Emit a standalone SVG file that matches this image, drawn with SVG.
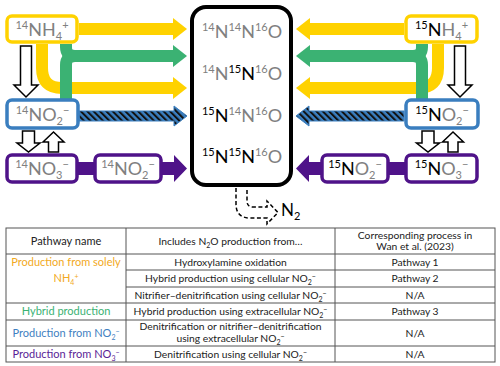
<svg xmlns="http://www.w3.org/2000/svg" width="500" height="366" viewBox="0 0 500 366">
<style>
.lbl{font-family:Lato,"Noto Sans","Liberation Sans",sans-serif;font-size:18px;fill:#808080}
.k{fill:#000}
.s{font-size:11px}
.yel{fill:none;stroke:#ffd200;stroke-width:12}
.grn{fill:none;stroke:#3bb273;stroke-width:12}
.box{fill:#fff;stroke-width:3.5}
.bY{stroke:#ffd200}.bB{stroke:#3a7ebf}.bP{stroke:#4f1389}
.open{fill:#fff;stroke:#000;stroke-width:1.5;stroke-linejoin:miter}
.tb{font-family:Lato,"Noto Sans","Liberation Sans",sans-serif;font-size:10.3px;fill:#222;text-anchor:middle}
.t1{font-size:11px}
.ln{stroke:#555;stroke-width:1;fill:none}
.ss{font-size:7px}
</style>
<defs>
<pattern id="hatch" width="4.5" height="4.5" patternUnits="userSpaceOnUse" patternTransform="rotate(-45)">
<rect width="4.5" height="4.5" fill="#3a7ebf"/><rect width="2" height="4.5" fill="#111"/>
</pattern>
</defs>

<g id="connectors">
<!-- left -->
<path class="yel" d="M79,29 H175"/>
<polygon fill="#ffd200" points="173,18 187,29 173,40"/>
<path class="yel" d="M42,44 V68 Q42,88 62,88 H175"/>
<polygon fill="#ffd200" points="173,77 187,88 173,99"/>
<path class="grn" d="M66,44 V47 Q66,56 75,56 H175"/>
<path class="grn" d="M66,99 V65 Q66,56 75,56"/>
<polygon fill="#3bb273" points="173,45 187,56 173,67"/>
<polygon fill="url(#hatch)" stroke="#3a7ebf" stroke-width="1" points="79,111 174,111 174,106 187,116 174,126 174,121 79,121"/>
<rect x="78" y="162" width="16" height="13" fill="#4f1389"/>
<polygon fill="#4f1389" points="162,162 174,162 174,155 187,168.5 174,182 174,175 162,175"/>
<polygon class="open" points="20.5,46 31.5,46 31.5,85 38,85 26,97 14,85 20.5,85"/>
<polygon class="open" points="22.5,131 34.5,131 34.5,143 40,143 28.5,152 17,143 22.5,143"/>
<polygon class="open" points="48.5,152 58.5,152 58.5,142 64,142 53.5,132 43,142 48.5,142"/>
<!-- right -->
<path class="yel" d="M404,29 H308"/>
<polygon fill="#ffd200" points="310,18 296,29 310,40"/>
<path class="yel" d="M438,44 V68 Q438,88 418,88 H308"/>
<polygon fill="#ffd200" points="310,77 296,88 310,99"/>
<path class="grn" d="M422,44 V47 Q422,56 413,56 H308"/>
<path class="grn" d="M422,99 V65 Q422,56 413,56"/>
<polygon fill="#3bb273" points="310,45 296,56 310,67"/>
<polygon fill="url(#hatch)" stroke="#3a7ebf" stroke-width="1" points="404,111 309,111 309,106 296,116 309,126 309,121 404,121"/>
<rect x="389" y="162" width="16" height="13" fill="#4f1389"/>
<polygon fill="#4f1389" points="321,162 309,162 309,155 296,168.5 309,182 309,175 321,175"/>
<polygon class="open" points="454.5,46 465.5,46 465.5,85 472,85 460,97 448,85 454.5,85"/>
<polygon class="open" points="422,131 434,131 434,143 439.5,143 428,152 416.5,143 422,143"/>
<polygon class="open" points="448,152 458,152 458,142 463.5,142 453,132 442.5,142 448,142"/>
<!-- N2 -->
<path d="M236,188 V204 Q236,218 250,218 H267 V224 L278,212.5 L267,201 V207 H253 Q247,207 247,201 V188" fill="none" stroke="#000" stroke-width="1.5" stroke-dasharray="4 2.5"/>
</g>

<g id="n2o">
<rect x="192" y="7" width="99" height="178" rx="14" fill="#fff" stroke="#000" stroke-width="4"/>
<text class="lbl" x="242" y="38" text-anchor="middle"><tspan class="s" dy="-7">14</tspan><tspan dy="7">N</tspan><tspan class="s" dy="-7">14</tspan><tspan dy="7">N</tspan><tspan class="s" dy="-7">16</tspan><tspan dy="7">O</tspan></text>
<text class="lbl" x="242" y="80" text-anchor="middle"><tspan class="s" dy="-7">14</tspan><tspan dy="7">N</tspan><tspan class="s k" dy="-7">15</tspan><tspan class="k" dy="7">N</tspan><tspan class="s" dy="-7">16</tspan><tspan dy="7">O</tspan></text>
<text class="lbl" x="242" y="122" text-anchor="middle"><tspan class="s k" dy="-7">15</tspan><tspan class="k" dy="7">N</tspan><tspan class="s" dy="-7">14</tspan><tspan dy="7">N</tspan><tspan class="s" dy="-7">16</tspan><tspan dy="7">O</tspan></text>
<text class="lbl" x="242" y="163" text-anchor="middle"><tspan class="s k" dy="-7">15</tspan><tspan class="k" dy="7">N</tspan><tspan class="s k" dy="-7">15</tspan><tspan class="k" dy="7">N</tspan><tspan class="s" dy="-7">16</tspan><tspan dy="7">O</tspan></text>
</g>

<g id="nh4-14">
<rect class="box bY" x="7" y="16" width="70" height="26" rx="5"/>
<text class="lbl" x="42" y="35.5" text-anchor="middle"><tspan class="s" dy="-7">14</tspan><tspan dy="7">NH</tspan><tspan class="s" dy="4">4</tspan><tspan class="s" dy="-11">+</tspan></text>
</g>
<g id="no2-14">
<rect class="box bB" x="7" y="100" width="71" height="28" rx="5"/>
<text class="lbl" x="42.5" y="120.5" text-anchor="middle"><tspan class="s" dy="-7">14</tspan><tspan dy="7">NO</tspan><tspan class="s" dy="4">2</tspan><tspan class="s" dy="-11">−</tspan></text>
</g>
<g id="no3-14">
<rect class="box bP" x="7" y="155" width="70" height="27" rx="5"/>
<text class="lbl" x="42" y="175" text-anchor="middle"><tspan class="s" dy="-7">14</tspan><tspan dy="7">NO</tspan><tspan class="s" dy="4">3</tspan><tspan class="s" dy="-11">−</tspan></text>
</g>
<g id="no2c-14">
<rect class="box bP" x="95" y="155" width="66" height="27" rx="5"/>
<text class="lbl" x="128" y="175" text-anchor="middle"><tspan class="s" dy="-7">14</tspan><tspan dy="7">NO</tspan><tspan class="s" dy="4">2</tspan><tspan class="s" dy="-11">−</tspan></text>
</g>

<g id="nh4-15">
<rect class="box bY" x="406" y="16" width="71" height="26" rx="5"/>
<text class="lbl" x="441.5" y="35.5" text-anchor="middle"><tspan class="s k" dy="-7">15</tspan><tspan class="k" dy="7">N</tspan><tspan>H</tspan><tspan class="s" dy="4">4</tspan><tspan class="s" dy="-11">+</tspan></text>
</g>
<g id="no2-15">
<rect class="box bB" x="406" y="100" width="72" height="28" rx="5"/>
<text class="lbl" x="442" y="120.5" text-anchor="middle"><tspan class="s k" dy="-7">15</tspan><tspan class="k" dy="7">N</tspan><tspan>O</tspan><tspan class="s" dy="4">2</tspan><tspan class="s" dy="-11">−</tspan></text>
</g>
<g id="no3-15">
<rect class="box bP" x="406" y="155" width="71" height="27" rx="5"/>
<text class="lbl" x="441.5" y="175" text-anchor="middle"><tspan class="s k" dy="-7">15</tspan><tspan class="k" dy="7">N</tspan><tspan>O</tspan><tspan class="s" dy="4">3</tspan><tspan class="s" dy="-11">−</tspan></text>
</g>
<g id="no2c-15">
<rect class="box bP" x="322" y="155" width="66" height="27" rx="5"/>
<text class="lbl" x="355" y="175" text-anchor="middle"><tspan class="s k" dy="-7">15</tspan><tspan class="k" dy="7">N</tspan><tspan>O</tspan><tspan class="s" dy="4">2</tspan><tspan class="s" dy="-11">−</tspan></text>
</g>

<g id="n2">
<text class="lbl k" x="281" y="216" style="font-size:17px">N<tspan class="s" dy="4">2</tspan></text>
</g>

<g id="table">
<rect class="ln" x="6" y="228" width="489" height="134" stroke-width="1.2"/>
<path class="ln" d="M126,228 V362 M335,228 V362 M126,270 H495 M126,287 H495 M6,303 H495 M6,320 H495 M6,346 H495"/>
<path class="ln" d="M6,254 H495" stroke-width="1.6"/>
<text class="tb t1" x="66" y="245">Pathway name</text>
<text class="tb" x="230.5" y="245">Includes N<tspan class="ss" dy="2.5">2</tspan><tspan dy="-2.5">O production from…</tspan></text>
<text class="tb" x="415" y="238.5">Corresponding process in</text>
<text class="tb" x="415" y="249.5">Wan et al. (2023)</text>

<text class="tb t1" x="66" y="266" fill="#f2a922" style="fill:#f2a922">Production from solely</text>
<text class="tb t1" x="66" y="282" style="fill:#f2a922">NH<tspan class="ss" dy="2.5">4</tspan><tspan class="ss" dy="-6">+</tspan></text>
<text class="tb t1" x="66" y="315" style="fill:#3bb273">Hybrid production</text>
<text class="tb t1" x="66" y="337" style="fill:#3f7fc1">Production from NO<tspan class="ss" dy="2.5">2</tspan><tspan class="ss" dy="-6">−</tspan></text>
<text class="tb t1" x="66" y="358" style="fill:#5a1e96">Production from NO<tspan class="ss" dy="2.5">3</tspan><tspan class="ss" dy="-6">−</tspan></text>

<text class="tb" x="230.5" y="266">Hydroxylamine oxidation</text>
<text class="tb" x="230.5" y="282">Hybrid production using cellular NO<tspan class="ss" dy="2.5">2</tspan><tspan class="ss" dy="-6">−</tspan></text>
<text class="tb" x="230.5" y="299">Nitrifier–denitrification using cellular NO<tspan class="ss" dy="2.5">2</tspan><tspan class="ss" dy="-6">−</tspan></text>
<text class="tb" x="230.5" y="315">Hybrid production using extracellular NO<tspan class="ss" dy="2.5">2</tspan><tspan class="ss" dy="-6">−</tspan></text>
<text class="tb" x="230.5" y="330">Denitrification or nitrifier–denitrification</text>
<text class="tb" x="230.5" y="342">using extracellular NO<tspan class="ss" dy="2.5">2</tspan><tspan class="ss" dy="-6">−</tspan></text>
<text class="tb" x="230.5" y="358">Denitrification using cellular NO<tspan class="ss" dy="2.5">2</tspan><tspan class="ss" dy="-6">−</tspan></text>

<text class="tb" x="415" y="266">Pathway 1</text>
<text class="tb" x="415" y="282">Pathway 2</text>
<text class="tb" x="415" y="299">N/A</text>
<text class="tb" x="415" y="315">Pathway 3</text>
<text class="tb" x="415" y="337">N/A</text>
<text class="tb" x="415" y="358">N/A</text>
</g>
</svg>
